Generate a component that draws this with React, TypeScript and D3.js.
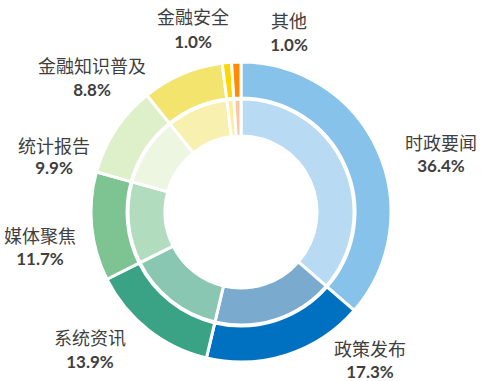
import React from "react";
import * as d3 from "d3";

const categories = ["时政要闻", "政策发布", "系统资讯", "媒体聚焦", "统计报告", "金融知识普及", "金融安全", "其他"];
const values = [36.4, 17.3, 13.9, 11.7, 9.9, 8.8, 1.0, 1.0];
const outerColors = ["#87C2EA", "#0070C0", "#3AA385", "#7DC492", "#DDF0C9", "#F2E46C", "#FFD700", "#FF8C00"];
const innerColors = ["#B8DBF3", "#7BAACF", "#8AC7B3", "#B1DCBE", "#EDF6E0", "#F8F0AE", "#FFEE99", "#F9C6A0"];

// label layout (centre x, name y, percent y)
const labelPos: [number, number, number][] = [
  [441, 142, 165],
  [370, 348, 371],
  [90, 337, 361],
  [40, 235, 258],
  [54, 145, 167],
  [92, 65, 89],
  [193, 16, 41],
  [289, 20, 44],
];

export default function App() {
  const W = 485, H = 381;
  const cx = 241, cy = 212;
  const pie = d3.pie<number>().sort(null).value((d) => d);
  const arcs = pie(values);
  const outerArc = d3.arc<d3.PieArcDatum<number>>().innerRadius(114).outerRadius(150);
  const innerArc = d3.arc<d3.PieArcDatum<number>>().innerRadius(76).outerRadius(113);

  return (
    <svg width={W} height={H} style={{ position: "absolute", left: 0, top: 0, background: "#fff" }}>
      <g transform={`translate(${cx},${cy})`}>
        {arcs.map((a, i) => (
          <path key={"o" + i} d={outerArc(a) || ""} fill={outerColors[i]} stroke="#fff" strokeWidth={3} />
        ))}
        {arcs.map((a, i) => (
          <path key={"i" + i} d={innerArc(a) || ""} fill={innerColors[i]} stroke="#fff" strokeWidth={3} />
        ))}
      </g>
      {categories.map((c, i) => (
        <g key={"l" + i} fill="#3F3F3F" textAnchor="middle">
          <text x={labelPos[i][0]} y={labelPos[i][1]} dominantBaseline="central"
            fontFamily="'Noto Sans CJK SC', sans-serif" fontSize={18}>{c}</text>
          <text x={labelPos[i][0]} y={labelPos[i][2]} dominantBaseline="central"
            fontFamily="Lato, 'Liberation Sans', sans-serif" fontWeight="bold" fontSize={17}>
            {values[i].toFixed(1) + "%"}
          </text>
        </g>
      ))}
    </svg>
  );
}
